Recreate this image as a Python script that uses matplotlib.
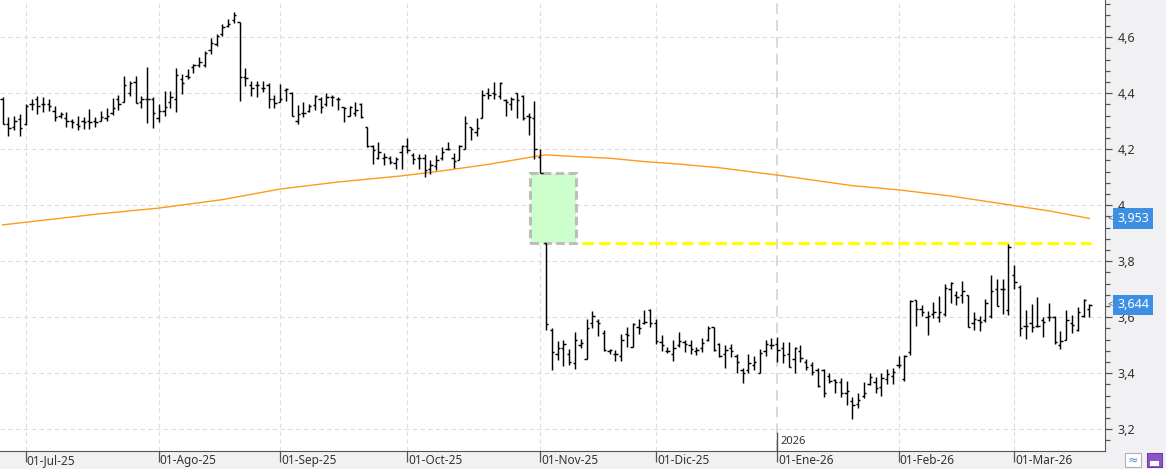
import matplotlib.pyplot as plt
import matplotlib.patches as mpatches
import matplotlib.transforms as mtransforms
from matplotlib.ticker import MultipleLocator, AutoMinorLocator, FuncFormatter
import numpy as np
import pandas as pd

plt.rcParams['font.family'] = ['Noto Sans', 'DejaVu Sans']

# daily OHLC, 25-Jun-25 .. 19-Mar-26
opens = [4.38, 4.29, 4.28, 4.308, 4.289, 4.36, 4.378, 4.36, 4.363, 4.335,
         4.32, 4.311, 4.30, 4.29, 4.302, 4.30, 4.30, 4.302, 4.31, 4.33,
         4.379, 4.367, 4.40, 4.44, 4.37, 4.38, 4.38, 4.31, 4.335, 4.37,
         4.38, 4.45, 4.46, 4.495, 4.50, 4.50, 4.555, 4.575, 4.61, 4.64,
         4.66, 4.654, 4.457, 4.43, 4.43, 4.42, 4.43, 4.38, 4.37, 4.41,
         4.40, 4.30, 4.33, 4.335, 4.357, 4.38, 4.36, 4.386, 4.38, 4.35,
         4.32, 4.33, 4.36, 4.28, 4.21, 4.17, 4.17, 4.17, 4.15, 4.19,
         4.21, 4.18, 4.17, 4.17, 4.13, 4.14, 4.17, 4.20, 4.17, 4.16,
         4.20, 4.28, 4.26, 4.31, 4.40, 4.40, 4.39, 4.375, 4.36, 4.40,
         4.39, 4.32, 4.31, 4.174, 3.865, 3.555, 3.47, 3.49, 3.47, 3.435,
         3.50, 3.452, 3.58, 3.585, 3.544, 3.48, 3.47, 3.46, 3.54, 3.494,
         3.565, 3.58, 3.627, 3.58, 3.51, 3.48, 3.47, 3.50, 3.51, 3.50,
         3.48, 3.49, 3.52, 3.565, 3.505, 3.47, 3.49, 3.46, 3.41, 3.41,
         3.43, 3.40, 3.48, 3.50, 3.505, 3.49, 3.47, 3.45, 3.48, 3.44,
         3.43, 3.41, 3.41, 3.39, 3.375, 3.37, 3.33, 3.30, 3.29, 3.32,
         3.36, 3.37, 3.35, 3.38, 3.39, 3.43, 3.38, 3.475, 3.66, 3.63,
         3.60, 3.61, 3.60, 3.61, 3.70, 3.68, 3.68, 3.68, 3.58, 3.59,
         3.592, 3.604, 3.70, 3.70, 3.625, 3.752, 3.708, 3.57, 3.58, 3.57,
         3.59, 3.60, 3.60, 3.50, 3.52, 3.58, 3.554, 3.604, 3.63]
highs = [4.385, 4.314, 4.32, 4.325, 4.361, 4.38, 4.39, 4.385, 4.38, 4.355,
         4.332, 4.332, 4.308, 4.32, 4.314, 4.344, 4.314, 4.335, 4.349, 4.382,
         4.394, 4.46, 4.442, 4.46, 4.39, 4.495, 4.388, 4.362, 4.408, 4.408,
         4.489, 4.468, 4.486, 4.505, 4.53, 4.551, 4.596, 4.612, 4.646, 4.665,
         4.689, 4.654, 4.489, 4.445, 4.444, 4.444, 4.436, 4.394, 4.433, 4.418,
         4.406, 4.358, 4.368, 4.362, 4.392, 4.385, 4.40, 4.394, 4.388, 4.352,
         4.355, 4.37, 4.364, 4.281, 4.215, 4.227, 4.188, 4.176, 4.174, 4.215,
         4.239, 4.186, 4.183, 4.183, 4.16, 4.18, 4.207, 4.227, 4.186, 4.215,
         4.317, 4.281, 4.313, 4.41, 4.418, 4.439, 4.439, 4.379, 4.388, 4.402,
         4.394, 4.331, 4.374, 4.20, 3.865, 3.56, 3.515, 3.518, 3.485, 3.548,
         3.524, 3.595, 3.623, 3.593, 3.554, 3.488, 3.484, 3.539, 3.565, 3.58,
         3.595, 3.625, 3.631, 3.595, 3.536, 3.494, 3.52, 3.548, 3.518, 3.518,
         3.494, 3.525, 3.569, 3.567, 3.507, 3.50, 3.505, 3.469, 3.42, 3.469,
         3.46, 3.486, 3.519, 3.525, 3.529, 3.51, 3.51, 3.493, 3.50, 3.45,
         3.442, 3.418, 3.414, 3.40, 3.379, 3.382, 3.374, 3.314, 3.331, 3.37,
         3.40, 3.388, 3.40, 3.414, 3.418, 3.461, 3.467, 3.661, 3.661, 3.645,
         3.621, 3.654, 3.675, 3.72, 3.725, 3.693, 3.731, 3.681, 3.618, 3.606,
         3.665, 3.752, 3.737, 3.735, 3.862, 3.788, 3.714, 3.627, 3.649, 3.673,
         3.60, 3.65, 3.604, 3.551, 3.627, 3.607, 3.635, 3.667, 3.646]
lows = [4.289, 4.249, 4.269, 4.249, 4.285, 4.34, 4.325, 4.332, 4.335, 4.30,
        4.313, 4.281, 4.275, 4.267, 4.271, 4.272, 4.279, 4.301, 4.301, 4.323,
        4.34, 4.367, 4.39, 4.364, 4.346, 4.295, 4.275, 4.299, 4.319, 4.349,
        4.332, 4.397, 4.45, 4.472, 4.495, 4.495, 4.539, 4.567, 4.605, 4.636,
        4.652, 4.374, 4.427, 4.39, 4.388, 4.406, 4.349, 4.346, 4.37, 4.373,
        4.317, 4.289, 4.314, 4.332, 4.34, 4.329, 4.355, 4.356, 4.34, 4.299,
        4.317, 4.317, 4.311, 4.207, 4.146, 4.164, 4.144, 4.148, 4.129, 4.13,
        4.186, 4.148, 4.129, 4.10, 4.11, 4.127, 4.16, 4.198, 4.132, 4.16,
        4.20, 4.233, 4.248, 4.31, 4.379, 4.379, 4.379, 4.319, 4.34, 4.31,
        4.305, 4.25, 4.164, 4.115, 3.556, 3.413, 3.449, 3.425, 3.43, 3.417,
        3.492, 3.45, 3.56, 3.533, 3.48, 3.47, 3.443, 3.443, 3.494, 3.494,
        3.542, 3.577, 3.565, 3.506, 3.48, 3.473, 3.444, 3.494, 3.476, 3.468,
        3.464, 3.476, 3.515, 3.481, 3.457, 3.418, 3.457, 3.40, 3.367, 3.40,
        3.41, 3.40, 3.462, 3.486, 3.442, 3.436, 3.421, 3.402, 3.442, 3.412,
        3.394, 3.352, 3.317, 3.367, 3.331, 3.314, 3.287, 3.236, 3.275, 3.31,
        3.358, 3.331, 3.319, 3.362, 3.362, 3.419, 3.371, 3.467, 3.57, 3.604,
        3.538, 3.598, 3.582, 3.603, 3.651, 3.645, 3.651, 3.565, 3.556, 3.55,
        3.582, 3.598, 3.639, 3.61, 3.607, 3.702, 3.532, 3.524, 3.547, 3.565,
        3.53, 3.587, 3.504, 3.485, 3.518, 3.544, 3.551, 3.60, 3.60]
closes = [4.29, 4.277, 4.30, 4.275, 4.355, 4.361, 4.355, 4.363, 4.355, 4.314,
          4.325, 4.302, 4.296, 4.283, 4.299, 4.299, 4.296, 4.314, 4.319, 4.349,
          4.361, 4.43, 4.438, 4.366, 4.38, 4.38, 4.33, 4.335, 4.35, 4.388,
          4.465, 4.435, 4.458, 4.50, 4.51, 4.545, 4.58, 4.605, 4.636, 4.648,
          4.68, 4.457, 4.455, 4.42, 4.43, 4.418, 4.38, 4.364, 4.38, 4.414,
          4.319, 4.325, 4.329, 4.355, 4.39, 4.352, 4.386, 4.386, 4.379, 4.349,
          4.352, 4.34, 4.314, 4.212, 4.198, 4.192, 4.171, 4.156, 4.164, 4.212,
          4.198, 4.164, 4.168, 4.126, 4.145, 4.16, 4.192, 4.20, 4.158, 4.21,
          4.293, 4.273, 4.275, 4.394, 4.394, 4.398, 4.435, 4.368, 4.38, 4.376,
          4.31, 4.314, 4.20, 4.115, 3.575, 3.476, 3.49, 3.506, 3.44, 3.52,
          3.508, 3.56, 3.605, 3.58, 3.482, 3.484, 3.468, 3.52, 3.536, 3.575,
          3.56, 3.583, 3.58, 3.515, 3.50, 3.48, 3.49, 3.515, 3.506, 3.488,
          3.484, 3.507, 3.56, 3.483, 3.46, 3.483, 3.48, 3.44, 3.402, 3.436,
          3.442, 3.471, 3.505, 3.50, 3.483, 3.466, 3.424, 3.489, 3.454, 3.424,
          3.406, 3.355, 3.33, 3.374, 3.37, 3.331, 3.338, 3.287, 3.305, 3.331,
          3.386, 3.346, 3.382, 3.398, 3.406, 3.43, 3.46, 3.657, 3.63, 3.618,
          3.603, 3.62, 3.62, 3.705, 3.723, 3.673, 3.693, 3.567, 3.594, 3.582,
          3.651, 3.693, 3.64, 3.70, 3.85, 3.726, 3.56, 3.57, 3.565, 3.57,
          3.583, 3.60, 3.51, 3.515, 3.59, 3.572, 3.619, 3.663, 3.644]

holidays = ['2025-12-25', '2025-12-26', '2026-01-01']
dates = pd.bdate_range('2025-06-25', '2026-03-19', freq='C', holidays=holidays)

# moving average (session index, value)
ma_idx = [0, 17, 27, 38, 48, 58, 69, 75, 84, 92, 94, 99, 105, 111, 117, 124,
          135, 147, 155, 164, 173, 181, 188]
ma_val = [3.93, 3.97, 3.99, 4.02, 4.058, 4.083, 4.105, 4.12, 4.146, 4.174, 4.18,
          4.174, 4.168, 4.156, 4.147, 4.134, 4.105, 4.07, 4.055, 4.033, 4.005,
          3.98, 3.953]

month_labels = ['01-Jul-25', '01-Ago-25', '01-Sep-25', '01-Oct-25', '01-Nov-25',
                '01-Dic-25', '01-Ene-26', '01-Feb-26', '01-Mar-26']
gap_idx = 94
last_ma = 3.953

x = np.arange(len(dates))
firsts = pd.Series(x, index=dates).groupby([dates.year, dates.month]).first()
month_pos = list(firsts.values[1:])
jan_pos = month_pos[month_labels.index('01-Ene-26')]

W, H = 1166, 469
fig = plt.figure(figsize=(W / 100, H / 100), dpi=100, facecolor='#f1f1f3')
ax = fig.add_axes([0, 18 / H, 1105 / W, 451 / H])
ax.set_facecolor('white')

# grid
for m in month_pos:
    if m != jan_pos:
        ax.axvline(m, color='#dddddd', lw=0.8, ls=(0, (4, 3)), zorder=0)
for v in np.arange(3.2, 4.61, 0.2):
    ax.axhline(v, color='#dddddd', lw=0.8, ls=(0, (4, 3)), zorder=0)
ax.axvline(jan_pos, color='#cfcfcf', lw=1.1, ls=(0, (7, 4)), zorder=0)
ax.axvline(jan_pos, ymin=0, ymax=0.04, color='#555555', lw=1.0)
ax.text(jan_pos + 0.5, 0.021, '2026', transform=mtransforms.blended_transform_factory(ax.transData, ax.transAxes),
        fontsize=8, color='#333333', va='center', ha='left')

# gap box + level
prev_low = lows[gap_idx - 1]
gap_high = highs[gap_idx]
ax.add_patch(mpatches.Rectangle((gap_idx - 2.8, gap_high), 8.0, prev_low - gap_high,
                                facecolor='#ccffcc', edgecolor='#bdbdbd', lw=2.2,
                                ls=(0, (2.8, 1.4)), zorder=1))
ax.hlines(gap_high, gap_idx + 6.2, x[-1] + 0.2, color='#ffff00', lw=2.3,
          linestyles=[(0, (3.6, 1.6))], zorder=2)

# moving average
ax.plot(ma_idx, ma_val, color='#ff9a1a', lw=1.0, zorder=2)

# bars
ax.vlines(x, lows, highs, color='black', lw=1.05, zorder=3)
ax.hlines(opens, x - 0.4, x, color='black', lw=1.05, zorder=3)
ax.hlines(closes, x, x + 0.4, color='black', lw=1.05, zorder=3)

ax.set_xlim(-0.47, 190.7)
ax.set_ylim(3.1225, 4.733)

for s in ['top', 'left']:
    ax.spines[s].set_visible(False)
ax.spines['right'].set_color('#555555')
ax.spines['bottom'].set_color('#555555')

ax.yaxis.tick_right()
ax.yaxis.set_major_locator(MultipleLocator(0.2))
ax.yaxis.set_minor_locator(AutoMinorLocator(5))
ax.yaxis.set_major_formatter(FuncFormatter(
    lambda v, p: ('%.1f' % v).rstrip('0').rstrip('.').replace('.', ',')))
ax.tick_params(axis='y', which='major', length=5, width=0.9, color='#555555',
               labelsize=9, labelcolor='#333333', pad=4)
ax.tick_params(axis='y', which='minor', length=3.5, width=0.9, color='#555555')

ax.set_xticks(month_pos, month_labels)
ax.tick_params(axis='x', length=8, width=0.9, color='#555555', labelsize=8.5,
               labelcolor='#333333', pad=-6)
offset = mtransforms.ScaledTranslation(1 / 100, 0, fig.dpi_scale_trans)
for lbl in ax.get_xticklabels():
    lbl.set_horizontalalignment('left')
    lbl.set_transform(lbl.get_transform() + offset)

# last value labels
ytr = mtransforms.blended_transform_factory(ax.transAxes, ax.transData)
for val in [last_ma, closes[-1]]:
    ax.text(1.0 + 12 / 1105, val, ('%.3f' % val).replace('.', ','), transform=ytr,
            fontsize=9, color='white', va='center', ha='left', clip_on=False,
            bbox=dict(boxstyle='square,pad=0.3', fc='#3d8fe3', ec='none'))
    ax.text(1.0 + 2 / 1105, val, '<', transform=ytr, fontsize=6.5, color='#444444',
            va='center', ha='left', clip_on=False)

# small toolbar icons
fig.patches.append(mpatches.Rectangle((1125 / W, 2 / H), 16 / W, 14 / H, transform=fig.transFigure,
                                      fc='white', ec='#b0b0b0', lw=0.8))
fig.text(1133 / W, 9 / H, '≈', fontsize=9, color='#4a8fd8', ha='center', va='center')
fig.patches.append(mpatches.Rectangle((1147 / W, 2 / H), 15 / W, 14 / H, transform=fig.transFigure,
                                      fc='#8a55c9', ec='#6a3fa8', lw=0.8))
fig.patches.append(mpatches.Rectangle((1150 / W, 3 / H), 9 / W, 5 / H, transform=fig.transFigure,
                                      fc='white', ec='none'))

plt.savefig('out.png', dpi=100, facecolor=fig.get_facecolor())
